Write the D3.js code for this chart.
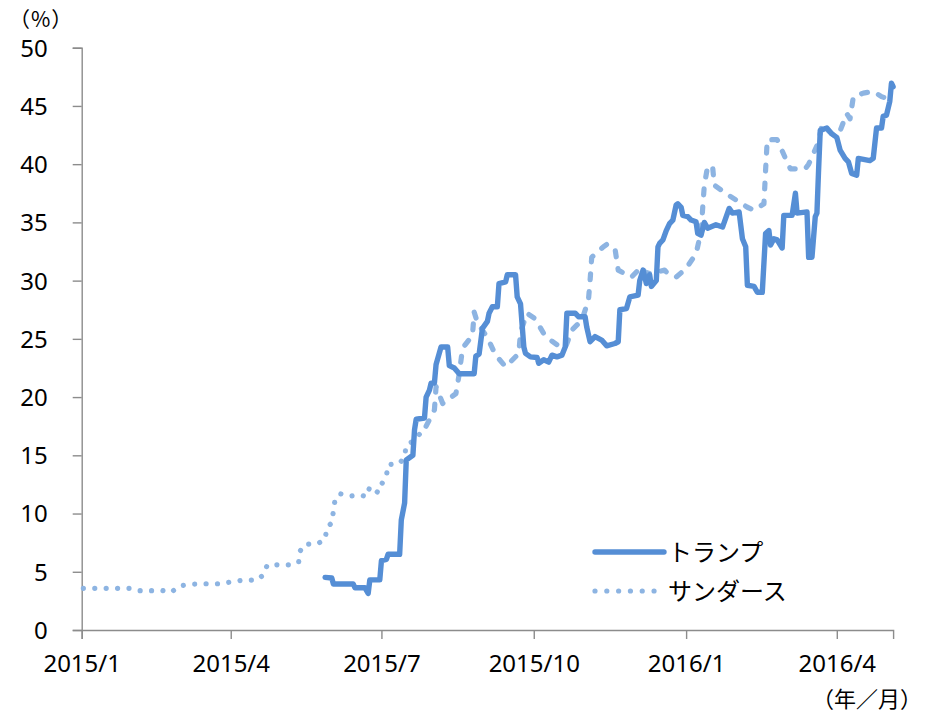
<!DOCTYPE html>
<html><head><meta charset="utf-8">
<script src="https://cdn.jsdelivr.net/npm/d3@7"></script>
<style>
html,body{margin:0;padding:0;background:#fff;}
svg{display:block;font-family:"Noto Sans","Noto Sans CJK JP",sans-serif;}
</style></head>
<body><svg id="chart" width="925" height="712"></svg>
<script>
const trumpDates = ["2015-05-28","2015-06-01","2015-06-02","2015-06-14","2015-06-15","2015-06-21","2015-06-23","2015-06-24","2015-06-30","2015-07-01","2015-07-04","2015-07-05","2015-07-12","2015-07-13","2015-07-15","2015-07-16","2015-07-20","2015-07-21","2015-07-22","2015-07-27","2015-07-28","2015-07-30","2015-07-31","2015-08-02","2015-08-03","2015-08-06","2015-08-10","2015-08-11","2015-08-14","2015-08-17","2015-08-26","2015-08-27","2015-08-29","2015-08-31","2015-09-03","2015-09-04","2015-09-06","2015-09-09","2015-09-10","2015-09-14","2015-09-15","2015-09-20","2015-09-21","2015-09-23","2015-09-25","2015-09-26","2015-09-29","2015-10-03","2015-10-04","2015-10-07","2015-10-10","2015-10-12","2015-10-15","2015-10-18","2015-10-20","2015-10-21","2015-10-26","2015-10-28","2015-11-01","2015-11-02","2015-11-04","2015-11-07","2015-11-11","2015-11-14","2015-11-19","2015-11-21","2015-11-22","2015-11-26","2015-11-28","2015-12-03","2015-12-04","2015-12-06","2015-12-08","2015-12-10","2015-12-11","2015-12-14","2015-12-15","2015-12-16","2015-12-18","2015-12-20","2015-12-22","2015-12-24","2015-12-26","2015-12-27","2015-12-29","2015-12-30","2016-01-02","2016-01-04","2016-01-07","2016-01-08","2016-01-10","2016-01-12","2016-01-14","2016-01-19","2016-01-23","2016-01-27","2016-01-29","2016-02-02","2016-02-04","2016-02-06","2016-02-07","2016-02-11","2016-02-13","2016-02-16","2016-02-18","2016-02-20","2016-02-21","2016-02-23","2016-02-25","2016-02-28","2016-02-29","2016-03-05","2016-03-07","2016-03-08","2016-03-14","2016-03-15","2016-03-17","2016-03-19","2016-03-20","2016-03-21","2016-03-22","2016-03-26","2016-03-29","2016-04-01","2016-04-03","2016-04-06","2016-04-08","2016-04-10","2016-04-13","2016-04-14","2016-04-21","2016-04-23","2016-04-25","2016-04-28","2016-04-29","2016-05-01","2016-05-03","2016-05-04","2016-05-05"];
const trumpValues = [4.52,4.46,3.95,3.95,3.63,3.63,3.15,4.3,4.3,5.95,6.07,6.5,6.5,9.44,10.9,14.6,15.0,17.2,18.1,18.2,20.0,20.6,21.2,21.2,22.8,24.3,24.3,22.7,22.5,22.0,22.0,23.5,23.7,25.9,26.5,27.2,27.75,27.75,29.75,29.9,30.5,30.5,28.6,28.0,24.3,23.75,23.45,23.4,22.9,23.2,23.0,23.6,23.45,23.6,24.3,27.2,27.2,26.9,26.9,26.0,24.75,25.2,24.9,24.4,24.6,24.75,27.5,27.6,28.6,28.75,30.0,30.9,29.75,30.5,29.5,30.0,32.9,33.2,33.5,34.3,34.9,35.2,36.5,36.6,36.3,35.6,35.5,35.2,35.05,34.05,33.9,35.0,34.5,34.8,34.6,36.2,35.8,35.9,33.6,32.9,29.6,29.5,29.0,29.0,34.05,34.3,33.05,33.6,33.5,32.8,35.6,35.6,37.5,35.8,35.9,32.0,32.0,35.5,35.8,39.5,42.9,43.1,42.6,42.3,41.2,40.5,40.2,39.2,39.05,40.5,40.3,40.5,43.1,43.1,44.1,44.2,45.4,46.95,46.65];

const sandersDates = ["2015-01-02","2015-01-10","2015-01-16","2015-01-23","2015-01-30","2015-02-05","2015-02-12","2015-02-19","2015-02-24","2015-03-01","2015-03-07","2015-03-14","2015-03-21","2015-03-27","2015-04-03","2015-04-10","2015-04-17","2015-04-21","2015-04-23","2015-04-30","2015-05-07","2015-05-12","2015-05-13","2015-05-16","2015-05-23","2015-05-28","2015-05-29","2015-06-01","2015-06-02","2015-06-03","2015-06-06","2015-06-12","2015-06-18","2015-06-22","2015-06-24","2015-06-29","2015-07-01","2015-07-04","2015-07-05","2015-07-12","2015-07-15","2015-07-16","2015-07-21","2015-07-28","2015-08-02","2015-08-03","2015-08-07","2015-08-15","2015-08-17","2015-08-19","2015-08-25","2015-08-26","2015-08-28","2015-09-03","2015-09-08","2015-09-14","2015-09-22","2015-09-23","2015-09-27","2015-10-02","2015-10-08","2015-10-15","2015-10-20","2015-10-24","2015-10-30","2015-11-03","2015-11-04","2015-11-05","2015-11-12","2015-11-14","2015-11-19","2015-11-21","2015-11-29","2015-12-05","2015-12-07","2015-12-10","2015-12-19","2015-12-21","2015-12-26","2016-01-01","2016-01-07","2016-01-10","2016-01-11","2016-01-12","2016-01-14","2016-01-17","2016-01-18","2016-01-27","2016-02-07","2016-02-11","2016-02-17","2016-02-18","2016-02-19","2016-02-25","2016-03-01","2016-03-04","2016-03-13","2016-03-15","2016-03-21","2016-03-23","2016-03-30","2016-04-02","2016-04-07","2016-04-09","2016-04-11","2016-04-17","2016-04-23","2016-04-28","2016-04-30","2016-05-04"];
const sandersValues = [3.58,3.58,3.58,3.58,3.58,3.38,3.38,3.38,3.23,3.78,3.92,3.97,3.97,3.97,4.2,4.29,4.29,4.78,5.58,5.6,5.6,5.8,6.8,7.38,7.38,7.78,8.78,9.2,10.2,11.2,11.7,11.5,11.6,11.45,12.3,11.8,12.5,13.2,14.2,14.3,14.9,15.85,16.3,17.5,18.9,20.9,19.45,20.3,22.0,24.2,25.3,27.3,26.4,25.1,23.6,22.6,23.75,25.6,27.2,26.7,25.2,24.5,24.2,25.75,26.6,28.3,30.0,32.0,32.9,33.1,32.8,30.9,30.3,31.2,30.75,30.6,30.9,30.6,30.3,31.05,32.3,34.2,36.2,38.2,39.8,39.8,38.2,37.3,36.3,36.05,36.6,39.5,42.1,42.1,40.5,39.6,39.6,40.0,41.9,43.35,42.5,42.5,44.35,43.9,45.8,46.1,46.25,45.8,45.7,45.6];

const xTickDates = ["2015-01-01","2015-04-01","2015-07-01","2015-10-01","2016-01-01","2016-04-01"];
const xTickLabels = ["2015/1","2015/4","2015/7","2015/10","2016/1","2016/4"];
const yTicks = [0,5,10,15,20,25,30,35,40,45,50];
const xDomain = ["2015-01-01","2016-05-05"];
const seriesNames = ["トランプ","サンダース"];
const yUnit = "（%）";
const xUnit = "（年／月）";

const parse = d3.timeParse("%Y-%m-%d");
const svg = d3.select("#chart");
const mLeft = 81.7, mRight = 893.1, mTop = 47.7, mBottom = 630;

const x = d3.scaleTime().domain(xDomain.map(parse)).range([mLeft, mRight]);
const y = d3.scaleLinear().domain([0, 50]).range([mBottom, mTop]);

const axisColor = "#8c8c8c";
const cjk = '"Noto Sans CJK JP",sans-serif';

// Y axis
const gy = svg.append("g").attr("transform", `translate(${mLeft},0)`)
  .call(d3.axisLeft(y).tickValues(yTicks).tickSize(9).tickPadding(25).tickFormat(d3.format("d")));
gy.select(".domain").attr("stroke", axisColor).attr("stroke-width", 1.4);
gy.selectAll(".tick line").attr("stroke", axisColor).attr("stroke-width", 1.4);
gy.selectAll(".tick text").attr("font-size", 24).attr("fill", "#000")
  .attr("font-family", '"Noto Sans",sans-serif').attr("dy", "0.35em");

// X axis
const gx = svg.append("g").attr("transform", `translate(0,${mBottom})`)
  .call(d3.axisBottom(x).tickValues(xTickDates.map(parse)).tickSize(9).tickPadding(10)
    .tickFormat((d, i) => xTickLabels[i]));
gx.select(".domain").attr("stroke", axisColor).attr("stroke-width", 1.4);
gx.selectAll(".tick line").attr("stroke", axisColor).attr("stroke-width", 1.4);
gx.selectAll(".tick text").attr("font-size", 24).attr("fill", "#000")
  .attr("font-family", '"Noto Sans",sans-serif').attr("dy", "0.95em");

// units
svg.append("text").attr("x", 9).attr("y", 27).attr("font-size", 21).attr("letter-spacing", 1)
  .attr("font-family", cjk).text(yUnit);
svg.append("text").attr("x", 922).attr("y", 707).attr("text-anchor", "end").attr("font-size", 22)
  .attr("font-family", cjk).text(xUnit);

const trumpColor = "#558ed5", sandersColor = "#8db4e2";

const trump = trumpDates.map((d, i) => ({date: parse(d), value: trumpValues[i]}));
const sanders = sandersDates.map((d, i) => ({date: parse(d), value: sandersValues[i]}));
const line = d3.line().x(d => x(d.date)).y(d => y(d.value));

// Sanders: dotted in the weekly part, dashed later (as in the Excel rendering)
const split = parse("2015-07-28");
const sEarly = sanders.filter(d => d.date <= split);
const sLate = sanders.filter(d => d.date >= split);
svg.append("path").datum(sEarly).attr("d", line).attr("fill", "none")
  .attr("stroke", sandersColor).attr("stroke-width", 5.2).attr("stroke-linecap", "round")
  .attr("stroke-linejoin", "round").attr("stroke-dasharray", "0.01 11.4");
svg.append("path").datum(sLate).attr("d", line).attr("fill", "none")
  .attr("stroke", sandersColor).attr("stroke-width", 5.2).attr("stroke-linecap", "round")
  .attr("stroke-linejoin", "round").attr("stroke-dasharray", "6 12");

svg.append("path").datum(trump).attr("d", line).attr("fill", "none")
  .attr("stroke", trumpColor).attr("stroke-width", 5.4).attr("stroke-linecap", "round")
  .attr("stroke-linejoin", "round");

// legend
const lg = svg.append("g");
lg.append("line").attr("x1", 595).attr("x2", 664).attr("y1", 552).attr("y2", 552)
  .attr("stroke", trumpColor).attr("stroke-width", 5.4).attr("stroke-linecap", "round");
lg.append("line").attr("x1", 595).attr("x2", 660).attr("y1", 591).attr("y2", 591)
  .attr("stroke", sandersColor).attr("stroke-width", 5.2).attr("stroke-linecap", "round")
  .attr("stroke-dasharray", "0.01 11.8");
lg.append("text").attr("x", 668).attr("y", 552).attr("dy", "0.36em").attr("font-size", 24)
  .attr("font-family", cjk).text(seriesNames[0]);
lg.append("text").attr("x", 668).attr("y", 591).attr("dy", "0.36em").attr("font-size", 24)
  .attr("font-family", cjk).text(seriesNames[1]);
</script></body></html>
